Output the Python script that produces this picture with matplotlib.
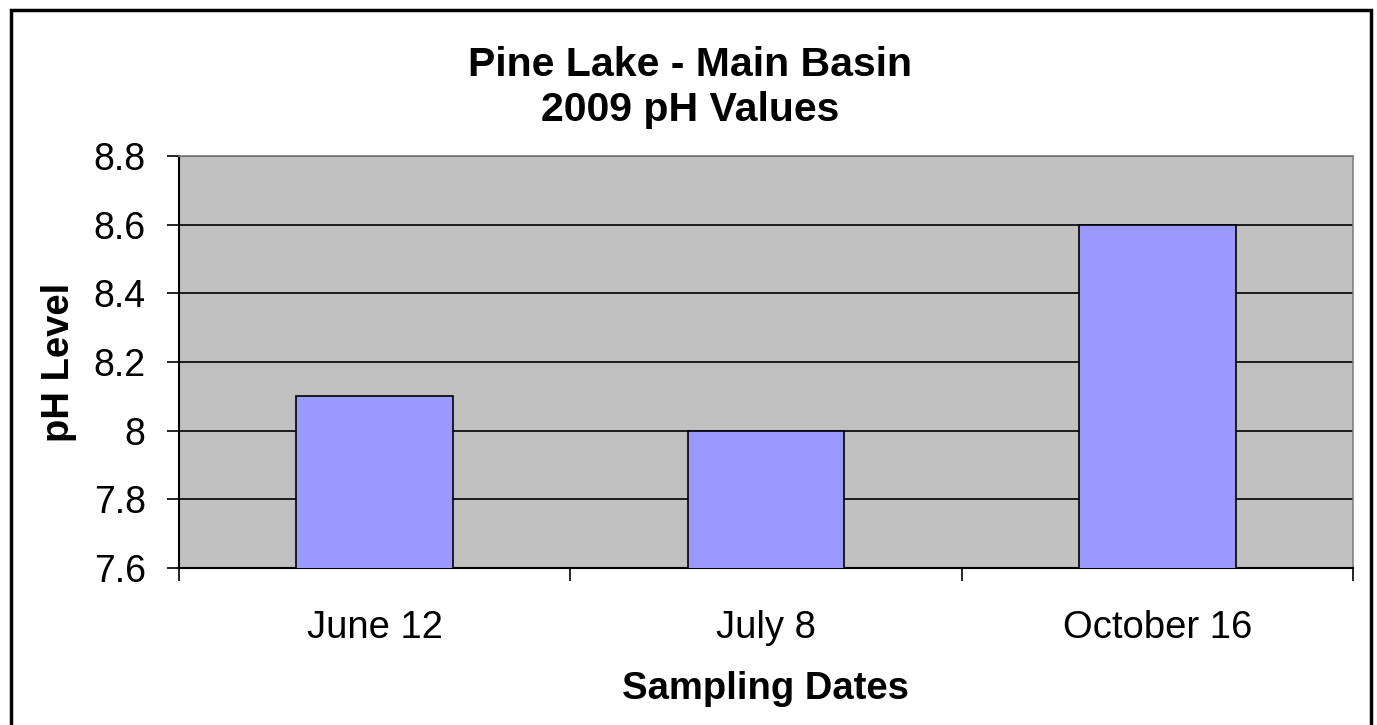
import numpy as np
import matplotlib.pyplot as plt
from matplotlib.patches import Rectangle

# Pine Lake main basin pH readings, 2009
dates = ['June 12', 'July 8', 'October 16']
ph_values = [8.1, 8.0, 8.6]
y_ticks = [7.6, 7.8, 8.0, 8.2, 8.4, 8.6, 8.8]
y_labels = ['7.6', '7.8', '8', '8.2', '8.4', '8.6', '8.8']

plt.rcParams['font.family'] = ['Liberation Sans', 'DejaVu Sans']

fig = plt.figure(figsize=(13.77, 7.25), dpi=100)
W, H = 1377, 725
ax = fig.add_axes([179 / W, 1 - 568 / H, (1353 - 179) / W, (568 - 156) / H])
ax.set_facecolor('#c0c0c0')

x = np.arange(len(dates))
ax.bar(x, ph_values, width=0.4, bottom=0, color='#9999ff',
       edgecolor='black', linewidth=1.2, zorder=3)

ax.set_xlim(-0.5, len(dates) - 0.5)
ax.set_ylim(7.6, 8.8)
ax.set_yticks(y_ticks)
ax.set_yticklabels(y_labels, fontsize=27)
ax.yaxis.grid(True, color='black', linewidth=1.2, zorder=1)
ax.set_axisbelow(True)

# category labels centered, tick marks on category boundaries
ax.set_xticks(x)
ax.set_xticklabels(dates, fontsize=27.5)
ax.tick_params(axis='x', which='major', length=0, pad=30)
ax.set_xticks(np.arange(len(dates) + 1) - 0.5, minor=True)
ax.tick_params(axis='x', which='minor', length=9, width=1.2, direction='out')
ax.tick_params(axis='y', length=9, width=1.2, direction='out', pad=15)

for side in ['top', 'right']:
    ax.spines[side].set_color('#808080')
    ax.spines[side].set_linewidth(1.2)
for side in ['left', 'bottom']:
    ax.spines[side].set_color('black')
    ax.spines[side].set_linewidth(1.5)

ax.set_xlabel('Sampling Dates', fontsize=27.5, fontweight='bold', labelpad=18)
ax.set_ylabel('pH Level', fontsize=27.5, fontweight='bold', labelpad=12)

fig.text(690 / W, 1 - 65 / H, 'Pine Lake - Main Basin', ha='center',
         va='center', fontsize=29.5, fontweight='bold')
fig.text(690 / W, 1 - 110 / H, '2009 pH Values', ha='center',
         va='center', fontsize=29.5, fontweight='bold')

# outer chart border (bottom edge falls off the image)
fig.patches.append(Rectangle((11 / W, -0.05), (1371 - 11) / W, 1.05 - 10 / H,
                             transform=fig.transFigure, fill=False,
                             edgecolor='black', linewidth=2.5))

fig.savefig('out.png', dpi=100)
